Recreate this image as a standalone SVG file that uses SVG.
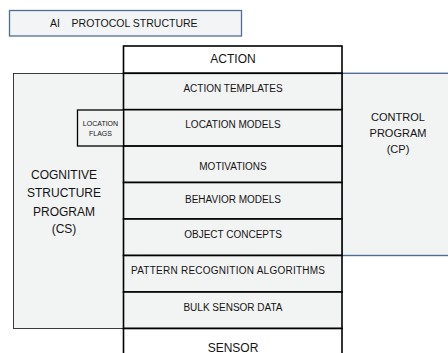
<svg xmlns="http://www.w3.org/2000/svg" width="448" height="353" viewBox="0 0 448 353">
<style>
text{font-family:"Liberation Sans",Arial,sans-serif;fill:#141414;text-anchor:middle}
.row{fill:#f2f3f3;stroke:#000;stroke-width:1.6}
.end{fill:#fff;stroke:#000;stroke-width:1.6}
.r{font-size:10px}
.big{font-size:12px}
.cs{font-size:12px}
.cp{font-size:11px}
.sm{font-size:7px}
</style>
<rect width="448" height="353" fill="#fff"/>
<g id="title">
<rect x="9.5" y="10.5" width="232" height="25.5" fill="#f2f4f5" stroke="#4f6d95" stroke-width="1.3"/>
<text x="50" y="26.5" font-size="10.5" style="text-anchor:start;white-space:pre" xml:space="preserve">AI    PROTOCOL STRUCTURE</text>
</g>
<g id="cs">
<rect x="13.5" y="73.5" width="110" height="255" fill="#f2f3f3" stroke="#3a3a3a" stroke-width="1"/>
<text class="cs" x="64" y="179">COGNITIVE</text>
<text class="cs" x="64" y="197">STRUCTURE</text>
<text class="cs" x="64" y="215.5">PROGRAM</text>
<text class="cs" x="64" y="233">(CS)</text>
</g>
<g id="cp">
<rect x="342" y="73.3" width="110" height="182.2" fill="#f2f3f3" stroke="#4f6d95" stroke-width="1.4"/>
<text class="cp" x="398" y="121">CONTROL</text>
<text class="cp" x="398" y="137">PROGRAM</text>
<text class="cp" x="398" y="153">(CP)</text>
</g>
<g id="action">
<rect class="end" x="123.5" y="46" width="218.5" height="27.3"/>
<text class="big" x="233" y="62.7">ACTION</text>
</g>
<g id="action-templates">
<rect class="row" x="123.5" y="73.3" width="218.5" height="36.4"/>
<text class="r" x="233" y="92.3">ACTION TEMPLATES</text>
</g>
<g id="location-models">
<rect class="row" x="123.5" y="109.7" width="218.5" height="36.4"/>
<text class="r" x="233" y="128.3">LOCATION MODELS</text>
</g>
<g id="motivations">
<rect class="row" x="123.5" y="146.1" width="218.5" height="36.4"/>
<text class="r" x="233" y="169.5">MOTIVATIONS</text>
</g>
<g id="behavior-models">
<rect class="row" x="123.5" y="182.5" width="218.5" height="36.5"/>
<text class="r" x="233" y="203.3">BEHAVIOR MODELS</text>
</g>
<g id="object-concepts">
<rect class="row" x="123.5" y="219" width="218.5" height="36.5"/>
<text class="r" x="233" y="237.5">OBJECT CONCEPTS</text>
</g>
<g id="pattern-recognition">
<rect class="row" x="123.5" y="255.5" width="218.5" height="36.5"/>
<text class="r" x="228" y="274" textLength="194" lengthAdjust="spacing">PATTERN RECOGNITION ALGORITHMS</text>
</g>
<g id="bulk-sensor-data">
<rect class="row" x="123.5" y="292" width="218.5" height="36.5"/>
<text class="r" x="233" y="310.5">BULK SENSOR DATA</text>
</g>
<g id="sensor">
<rect class="end" x="123.5" y="328.5" width="218.5" height="30"/>
<text class="big" x="233" y="351.5">SENSOR</text>
</g>
<g id="location-flags">
<rect x="77.5" y="110" width="46" height="36" fill="#f2f3f3" stroke="#000" stroke-width="1.3"/>
<text class="sm" x="100.5" y="126">LOCATION</text>
<text class="sm" x="100.5" y="136">FLAGS</text>
</g>
<g id="connectors"></g>
</svg>
